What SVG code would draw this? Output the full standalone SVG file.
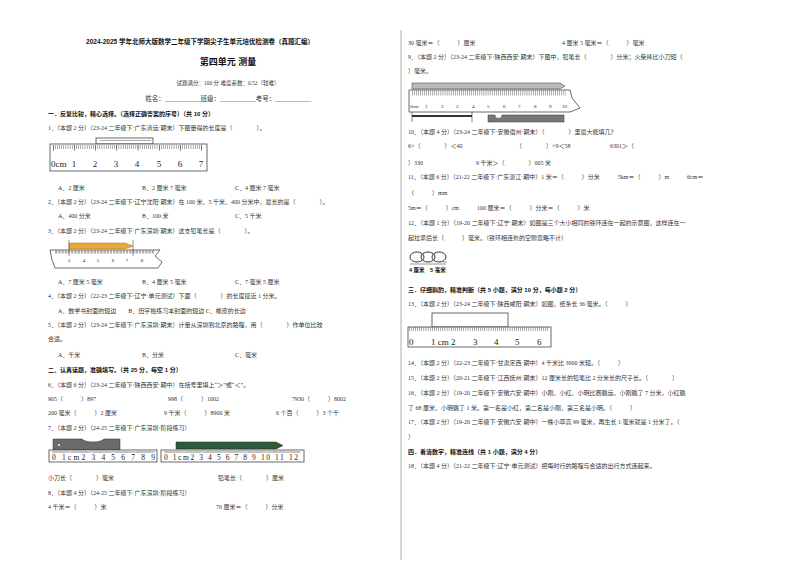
<svg xmlns="http://www.w3.org/2000/svg" width="800" height="566" viewBox="0 0 800 566">
<style>
text{font-family:"Liberation Serif","Noto Sans CJK SC",serif;font-size:6px;fill:#333}
.b{font-weight:bold;fill:#111;font-family:"Liberation Sans","Noto Sans CJK SC",sans-serif}
.r{font-size:9px;fill:#222}
.rs{font-size:5px;fill:#222}
.ol{fill:#fff;stroke:#444;stroke-width:0.8}
.tk{stroke:#333;fill:none}
</style>
<rect width="800" height="566" fill="#fff"/>
<line x1="401" y1="30" x2="401" y2="560" stroke="#999" stroke-width="0.8"/>
<g id="header">
<text x="200" y="44" class="b" text-anchor="middle" style="font-size:6.5px">2024-2025 学年北师大版数学二年级下学期尖子生单元培优检测卷（真题汇编）</text>
<text x="228" y="65" class="b" text-anchor="middle" style="font-size:9px">第四单元 测量</text>
<text x="228" y="85" text-anchor="middle" style="font-size:5.5px">试题满分：100 分 难度系数：0.52（较难）</text>
<text x="228" y="101" text-anchor="middle" style="font-size:6.5px">姓名：___________班级：___________考号：___________</text>
</g>
<g id="left">
<text x="48" y="116" class="b">一．反复比较，精心选择。（选择正确答案的序号）（共 10 分）</text>
<text x="48" y="130">1．（本题 2 分）（23-24 二年级下·广东清远·期末）下图量得的长度是（　　　　）。</text>
<g id="ruler1">
<rect x="96" y="138" width="57" height="6" class="ol"/>
<line x1="100" y1="140.5" x2="151" y2="140.5" stroke="#555" stroke-width="0.5"/>
<rect x="50" y="144" width="157" height="27" class="ol"/>
<line x1="53" y1="147" x2="202" y2="147" class="tk" stroke-width="4" stroke-dasharray="0.4 1.72"/>
<line x1="53" y1="148" x2="202" y2="148" class="tk" stroke-width="6" stroke-dasharray="0.5 20.7"/>
<text x="51" y="167" class="r">0cm</text>
<text x="74" y="167" class="r" text-anchor="middle">1</text><text x="95" y="167" class="r" text-anchor="middle">2</text><text x="116" y="167" class="r" text-anchor="middle">3</text><text x="137" y="167" class="r" text-anchor="middle">4</text><text x="159" y="167" class="r" text-anchor="middle">5</text><text x="180" y="167" class="r" text-anchor="middle">6</text><text x="201" y="167" class="r" text-anchor="middle">7</text>
</g>
<text x="58" y="190">A．2 厘米</text><text x="142" y="190">B．2 厘米 7 毫米</text><text x="235" y="190">C．4 厘米 7 毫米</text>
<text x="48" y="204">2．（本题 2 分）（23-24 二年级下·辽宁沈阳·期末）在 100 米、5 千米、400 分米中，最长的是（　　　　）。</text>
<text x="58" y="218">A．400 分米</text><text x="142" y="218">B．100 米</text><text x="235" y="218">C．5 千米</text>
<text x="48" y="233">3．（本题 2 分）（23-24 二年级下·广东深圳·期末）这支铅笔长是（　　　　）。</text>
<g id="pencilruler">
<path d="M50 250 L160 250 L155 256 L162 262 L158 268 L55 268 L52 260 Z" class="ol"/>
<line x1="55" y1="252" x2="155" y2="252" class="tk" stroke-width="3" stroke-dasharray="0.4 1.05"/>
<path d="M69 243 L125 243 L133 246 L125 249 L69 249 Z" fill="#e8a93c" stroke="#b07020" stroke-width="0.5"/>
<line x1="69" y1="240" x2="69" y2="256" stroke="#333" stroke-width="0.5"/>
<line x1="133" y1="240" x2="133" y2="256" stroke="#333" stroke-width="0.5"/>
<text x="69" y="262" class="rs" text-anchor="middle">3</text><text x="84" y="262" class="rs" text-anchor="middle">4</text><text x="98" y="262" class="rs" text-anchor="middle">5</text><text x="113" y="262" class="rs" text-anchor="middle">6</text><text x="127" y="262" class="rs" text-anchor="middle">7</text><text x="142" y="262" class="rs" text-anchor="middle">8</text>
</g>
<text x="58" y="284">A．7 厘米 5 毫米</text><text x="142" y="284">B．4 厘米 5 毫米</text><text x="235" y="284">C．7 毫米 5 厘米</text>
<text x="48" y="298">4．（本题 2 分）（22-23 二年级下·辽宁·单元测试）下面（　　　　）的长度接近 1 分米。</text>
<text x="58" y="313">A．数学书封面的短边　　B．田字格练习本封面的短边 C．橡皮的长边</text>
<text x="48" y="327">5．（本题 2 分）（23-24 二年级下·广东深圳·期末）计量从深圳到北京的路程，用（　　　　）作单位比较</text>
<text x="48" y="341">合适。</text>
<text x="58" y="357">A．千米</text><text x="142" y="357">B．分米</text><text x="235" y="357">C．毫米</text>
<text x="48" y="372" class="b">二、认真读题，准确填写。（共 25 分，每空 1 分）</text>
<text x="48" y="387">6．（本题 6 分）（23-24 二年级下·陕西西安·期中）在括号里填上“＞”或“＜”。</text>
<text x="48" y="401">905（　　　）897</text><text x="168" y="401">998（　　　）1002</text><text x="292" y="401">7930（　　　）8002</text>
<text x="48" y="415">200 毫米（　　　）2 厘米</text><text x="164" y="415">9 千米（　　　）8900 米</text><text x="276" y="415">6 个百（　　　）3 个千</text>
<text x="48" y="430">7．（本题 2 分）（24-25 二年级下·广东深圳·阶段练习）</text>
<g id="knife">
<path d="M53 439 L82 439 A12 5 0 0 0 104 439 L120 439 L120 450 L53 450 Z" fill="#6a6a6a" stroke="#333" stroke-width="0.5"/>
<circle cx="59" cy="445" r="1" fill="#fff"/>
<rect x="49" y="450" width="108" height="12" class="ol"/>
<line x1="52" y1="452" x2="155" y2="452" class="tk" stroke-width="2" stroke-dasharray="0.3 0.75"/>
<text x="52" y="460" class="r" style="font-size:7.5px" textLength="103">0 1cm2 3 4 5 6 7 8 9</text>
</g>
<g id="pencil7">
<path d="M176 442 L276 442 L283 445.5 L276 449 L176 449 Z" fill="#2f5a3a" stroke="#222" stroke-width="0.5"/>
<rect x="161" y="450" width="143" height="12" class="ol"/>
<line x1="164" y1="452" x2="300" y2="452" class="tk" stroke-width="2" stroke-dasharray="0.3 0.75"/>
<text x="164" y="460" class="r" style="font-size:7.5px" textLength="134">0 1cm2 3 4 5 6 7 8 9 10 11 12</text>
</g>
<text x="48" y="480">小刀长（　　　　）毫米</text><text x="218" y="480">铅笔长（　　　　）厘米</text>
<text x="48" y="495">8．（本题 4 分）（24-25 二年级下·广东深圳·阶段练习）</text>
<text x="48" y="509">4 千米＝（　　　）米</text><text x="216" y="509">70 厘米＝（　　　）分米</text>
</g>
<g id="right">
<text x="408" y="45">30 毫米＝（　　　）厘米</text><text x="562" y="45">4 厘米 5 毫米＝（　　　）毫米</text>
<text x="408" y="59">9．（本题 2 分）（23-24 二年级下·陕西西安·期末）下图中，铅笔长（　　　　）分米；火柴棒比小刀短（</text>
<text x="408" y="73">）毫米。</text>
<g id="ruler9">
<path d="M412 83 L560 83 L565 86 L560 89 L412 89 Z" fill="#bbb" stroke="#333" stroke-width="0.5"/>
<path d="M409 90 L570 90 L572 98 L580 108 L570 112 L409 112 Z" class="ol"/>
<line x1="412" y1="93" x2="566" y2="93" class="tk" stroke-width="5" stroke-dasharray="0.4 1.65"/>
<text x="410" y="108" class="rs">0cm</text>
<text x="425" y="108" class="rs">1</text><text x="441" y="108" class="rs">2</text><text x="456" y="108" class="rs">3</text><text x="472" y="108" class="rs">4</text><text x="487" y="108" class="rs">5</text><text x="503" y="108" class="rs">6</text><text x="518" y="108" class="rs">7</text><text x="534" y="108" class="rs">8</text><text x="549" y="108" class="rs">9</text><text x="562" y="108" class="rs">10</text>
<rect x="412" y="115" width="60" height="2" fill="#333"/>
<line x1="412" y1="112" x2="412" y2="122" stroke="#333" stroke-width="0.6"/><line x1="472" y1="112" x2="472" y2="122" stroke="#333" stroke-width="0.6"/>
<path d="M488 115 L495 115 A3 3 0 0 0 502 115 L564 115 L564 122 L488 122 Z" fill="#777" stroke="#333" stroke-width="0.5"/>
</g>
<text x="408" y="134">10．（本题 4 分）（23-24 二年级下·安徽宿州·期末）（　　　　）里最大能填几？</text>
<text x="408" y="148">6×（　　　　）＜40</text><text x="516" y="148">（　　　　）×9＜58</text><text x="610" y="148">6301＞（</text>
<text x="408" y="165">）330</text><text x="476" y="165">9 千米＞（　　　　）005 米</text>
<text x="408" y="179">11．（本题 6 分）（21-22 二年级下·广东湛江·期中）1 米＝（　　　）分米　　　5km＝（　　　）m　　　6cm＝</text>
<text x="408" y="195">（　　　）mm</text>
<text x="408" y="210">5m＝（　　　）cm　　　100 厘米＝（　　　）分米＝（　　　）米</text>
<text x="408" y="225">12．（本题 1 分）（19-20 二年级下·辽宁·期末）如图是三个大小相同的铁环连在一起的示意图，这样连在一</text>
<text x="408" y="240">起拉紧后长（　　　）毫米。（铁环相连处的空隙忽略不计）</text>
<g id="rings" fill="none" stroke="#333" stroke-width="1">
<ellipse cx="417" cy="257" rx="7" ry="5"/><ellipse cx="428" cy="257" rx="7" ry="5"/><ellipse cx="439" cy="257" rx="7" ry="5"/>
<line x1="410" y1="264" x2="446" y2="264" stroke-width="0.5"/>
<line x1="443" y1="262" x2="447" y2="262" stroke-width="0.5"/>
</g>
<text x="409" y="272" class="b" style="font-size:5.5px">4 厘米　5 毫米</text>
<text x="408" y="292" class="b">三．仔细斟酌，精准判断（共 5 小题，满分 10 分，每小题 2 分）</text>
<text x="408" y="306">13．（本题 2 分）（23-24 二年级下·陕西咸阳·期末）如图，纸条长 36 毫米。（　　　）</text>
<g id="ruler13">
<rect x="432" y="313" width="76" height="14" class="ol"/>
<rect x="408" y="327" width="143" height="20" class="ol"/>
<line x1="409" y1="329" x2="549" y2="329" class="tk" stroke-width="4" stroke-dasharray="0.4 1.7"/>
<text x="409" y="345" class="r">0</text><text x="431" y="345" class="r">1 cm</text><text x="451" y="345" class="r">2</text><text x="473" y="345" class="r">3</text><text x="494" y="345" class="r">4</text><text x="515" y="345" class="r">5</text><text x="537" y="345" class="r">6</text>
</g>
<text x="408" y="365">14．（本题 2 分）（22-23 二年级下·甘肃定西·期中）4 千米比 3900 米短。（　　　）</text>
<text x="408" y="380">15．（本题 2 分）（20-21 二年级下·江西抚州·期末）12 厘米长的铅笔比 2 分米长的尺子长。（　　　　）</text>
<text x="408" y="395">16．（本题 2 分）（19-20 二年级下·安徽六安·期中）小刚、小红、小明比赛跳远，小刚跳了 7 分米，小红跳</text>
<text x="408" y="410">了 68 厘米，小明跳了 1 米。第一名是小红，第二名是小刚，第三名是小明。（　　　）</text>
<text x="408" y="424">17．（本题 2 分）（19-20 二年级下·安徽六安·期中）一株小草高 99 毫米，再生长 1 毫米就是 1 分米了。（</text>
<text x="408" y="439">）</text>
<text x="408" y="454" class="b">四．看清数字，精准连线（共 1 小题，满分 4 分）</text>
<text x="408" y="468">18．（本题 4 分）（21-22 二年级下·辽宁·单元测试）把每时行的路程与合适的出行方式连起来。</text>
</g>
<g id="connectors"/>
</svg>
